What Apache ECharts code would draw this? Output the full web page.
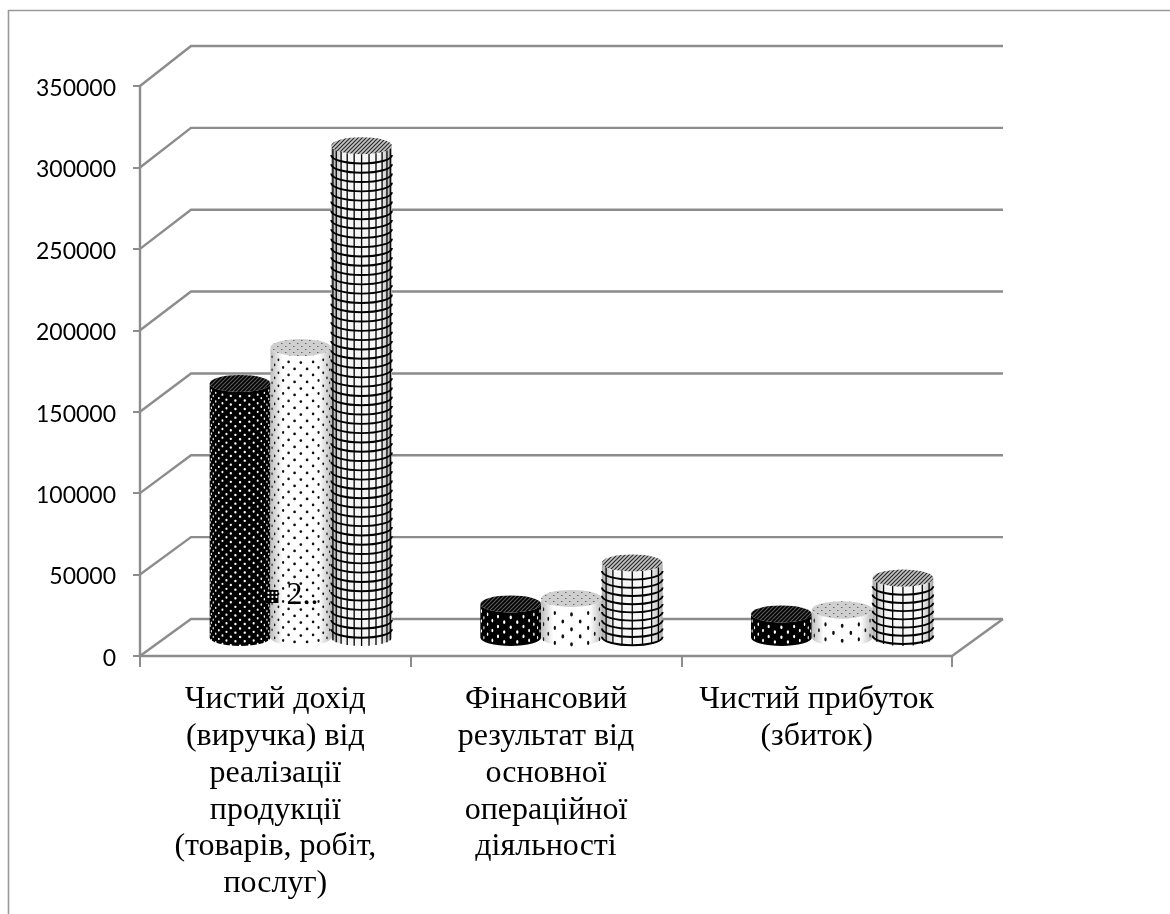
<!DOCTYPE html>
<html>
<head>
<meta charset="utf-8">
<style>html,body{margin:0;padding:0;background:#fff}#chart{width:1170px;height:914px}</style>
<script src="https://cdn.jsdelivr.net/npm/echarts@6/dist/echarts.min.js"></script>
</head>
<body>
<div id="chart"></div>
<script>
// Financial indicators: three periods per category
const categories = [
  'Чистий дохід\n(виручка) від\nреалізації\nпродукції\n(товарів, робіт,\nпослуг)',
  'Фінансовий\nрезультат від\nосновної\nопераційної\nдіяльності',
  'Чистий прибуток\n(збиток)'
];
const periodA = [156000, 20600, 14500];
const periodB = [178000, 24000, 17000];
const periodC = [302000, 45800, 36500];
const yTicks = [0, 50000, 100000, 150000, 200000, 250000, 300000, 350000];
const dataLabelText = '2..';
const dataLabelAnchor = [0, 25500];

const LINE = '#8c8c8c';
const DEPTH_X = 51;
const DEPTH_Y = 37;
const DEPTH_Y_TOP_EXTRA = 3;
const BAR_SHARE = 0.2245;
const CAP_RY = 8.5;

// Diagonal hatch used on the cylinder caps
function hatch(bg, ink) {
  const c = document.createElement('canvas');
  c.width = c.height = 4;
  const g = c.getContext('2d');
  g.fillStyle = bg; g.fillRect(0, 0, 4, 4);
  g.strokeStyle = ink; g.lineWidth = 1.2;
  g.beginPath();
  g.moveTo(-1, 1); g.lineTo(1, -1);
  g.moveTo(0, 4); g.lineTo(4, 0);
  g.moveTo(3, 5); g.lineTo(5, 3);
  g.stroke();
  return { image: c, repeat: 'repeat' };
}
// Sparse dots for the cap of the dotted cylinder
function speckle(bg, ink) {
  const c = document.createElement('canvas');
  c.width = 8; c.height = 6;
  const g = c.getContext('2d');
  g.fillStyle = bg; g.fillRect(0, 0, 8, 6);
  g.fillStyle = ink;
  g.fillRect(1, 1, 1.5, 1); g.fillRect(5, 4, 1.5, 1);
  return { image: c, repeat: 'repeat' };
}

function ovalAt(x, y, rx, ry) {
  return 'M' + (x - rx) + ' ' + y +
    'A' + rx + ' ' + ry + ' 0 1 0 ' + (x + rx) + ' ' + y +
    'A' + rx + ' ' + ry + ' 0 1 0 ' + (x - rx) + ' ' + y + 'Z';
}

// Dots wrapped around the visible half of a cylinder
function wrappedDots(cx, r, ry, top, base, colGap, rowGap, dotR, dotStretch) {
  let d = '';
  const step = colGap / r;
  const n = Math.floor((Math.PI / 2) / step);
  for (let i = -n; i <= n; i++) {
    const t = i * step, s = Math.cos(t);
    if (s < 0.12) continue;
    const x = cx + r * Math.sin(t);
    const shift = (i & 1) ? rowGap / 2 : 0;
    for (let y0 = top + shift + rowGap / 2; y0 < base; y0 += rowGap) {
      d += ovalAt(x, y0 + ry * s, Math.max(0.6, dotR * s), dotR * dotStretch);
    }
  }
  return d;
}

function wrappedRings(cx, r, ry, top, base, rowGap) {
  let d = '';
  for (let y0 = top + rowGap; y0 < base; y0 += rowGap) {
    d += 'M' + (cx - r) + ' ' + y0 + 'A' + r + ' ' + ry + ' 0 0 0 ' + (cx + r) + ' ' + y0;
  }
  return d;
}

function wrappedMeridians(cx, r, ry, top, base, colGap) {
  let d = '';
  const step = colGap / r;
  const n = Math.floor((Math.PI / 2) / step);
  for (let i = -n; i <= n; i++) {
    const t = i * step, s = Math.cos(t);
    if (s < 0.2) continue;
    const x = cx + r * Math.sin(t);
    d += 'M' + x + ' ' + (top + ry * s) + 'L' + x + ' ' + (base + ry * s);
  }
  return d;
}

function shade(edge, mid) {
  return {
    type: 'linear', x: 0, y: 0, x2: 1, y2: 0,
    colorStops: [
      { offset: 0, color: edge }, { offset: 0.2, color: mid },
      { offset: 0.8, color: mid }, { offset: 1, color: edge }
    ]
  };
}

const STYLES = [
  { body: '#000', cap: hatch('#000', '#5a5a5a'), kind: 'dots', ink: '#fff', colGap: 4.7, rowGap: 8.6, dotR: 1.2 },
  { body: shade('#bdbdbd', '#fff'), cap: speckle('#cfcfcf', '#666'), kind: 'dots', ink: '#111', colGap: 6.3, rowGap: 13, dotR: 1.4 },
  { body: shade('#aaaaaa', '#f6f6f6'), cap: hatch('#c4c4c4', '#2a2a2a'), kind: 'grid', ink: '#000', colGap: 7.5, rowGap: 9.3 }
];

function cylinderRenderer(seriesIndex) {
  return function (params, api) {
    const cat = api.value(0);
    const band = api.size([1, 0])[0];
    const w = band * BAR_SHARE;
    const r = w / 2;
    const front = api.coord([cat, api.value(1)]);
    const floor = api.coord([cat, 0]);
    const cx = front[0] + DEPTH_X / 2 + (seriesIndex - 1) * w;
    const top = front[1] - DEPTH_Y / 2;
    const base = floor[1] - DEPTH_Y / 2;
    const s = STYLES[seriesIndex];
    const ry = CAP_RY;
    const short = base - top < 120;
    const outline = 'M' + (cx - r) + ' ' + top + 'L' + (cx - r) + ' ' + base +
      'A' + r + ' ' + ry + ' 0 0 0 ' + (cx + r) + ' ' + base +
      'L' + (cx + r) + ' ' + top +
      'A' + r + ' ' + ry + ' 0 0 1 ' + (cx - r) + ' ' + top + 'Z';
    const children = [{ type: 'path', shape: { pathData: outline }, style: { fill: s.body } }];
    if (s.kind === 'dots') {
      children.push({
        type: 'path',
        shape: {
          pathData: wrappedDots(cx, r, ry, top, base,
            short ? s.colGap * 1.4 : s.colGap, short ? s.rowGap * 1.15 : s.rowGap, s.dotR, short ? 1.5 : 1)
        },
        style: { fill: s.ink }
      });
    } else {
      children.push({
        type: 'path',
        shape: { pathData: wrappedMeridians(cx, r, ry, top, base, short ? s.colGap * 1.4 : s.colGap) },
        style: { fill: 'none', stroke: '#000', lineWidth: 1.3 }
      });
      children.push({
        type: 'path',
        shape: { pathData: wrappedRings(cx, r, ry, top, base, short ? 8.2 : s.rowGap) },
        style: { fill: 'none', stroke: s.ink, lineWidth: 1.9 }
      });
    }
    children.push({
      type: 'path',
      shape: { pathData: ovalAt(cx, top, r, ry) },
      style: { fill: s.cap }
    });
    return { type: 'group', children };
  };
}

// Back wall lines and side-wall diagonals, one per value tick
function wallRenderer(params, api) {
  const v = api.value(0);
  const sys = params.coordSys;
  const y = api.coord([0, v])[1];
  const lift = DEPTH_Y + DEPTH_Y_TOP_EXTRA * v / yTicks[yTicks.length - 1];
  const x0 = sys.x, x1 = sys.x + sys.width;
  const children = [{
    type: 'polyline',
    shape: { points: [[x0, y], [x0 + DEPTH_X, y - lift], [x1 + DEPTH_X, y - lift]] },
    style: { fill: 'none', stroke: LINE, lineWidth: 2.4 }
  }];
  if (v === 0) {
    children.push({
      type: 'line',
      shape: { x1: x1, y1: y, x2: x1 + DEPTH_X, y2: y - lift },
      style: { stroke: LINE, lineWidth: 2.4 }
    });
  }
  return { type: 'group', children };
}

// Clipped data label with its small legend key
function keyLabelRenderer(params, api) {
  const p = api.coord([api.value(0), api.value(1)]);
  const band = api.size([1, 0])[0];
  const x = p[0] + DEPTH_X / 2 - band * BAR_SHARE / 2;
  const y = p[1] - DEPTH_Y / 2;
  const pips = [[-2, -3], [2, -3], [6, -3], [-2, 1], [2, 1], [6, 1], [2, 5]]
    .map(q => ovalAt(x + q[0], y + q[1], 1.1, 1.1)).join('');
  return {
    type: 'group',
    children: [
      { type: 'rect', shape: { x: x - 5, y: y - 6, width: 13, height: 13 }, style: { fill: '#000' } },
      { type: 'path', shape: { pathData: pips }, style: { fill: '#fff' } },
      {
        type: 'text',
        style: {
          x: x + 16, y: y, text: dataLabelText,
          font: '32px "Liberation Serif"', fill: '#000',
          verticalAlign: 'middle', align: 'left'
        }
      }
    ]
  };
}

const seriesData = [periodA, periodB, periodC];

const chart = echarts.init(document.getElementById('chart'), null, { renderer: 'canvas' });
chart.setOption({
  animation: false,
  backgroundColor: '#fff',
  graphic: {
    elements: [{
      type: 'polyline',
      shape: { points: [[8.5, 914], [8.5, 10.5], [1170, 10.5]] },
      style: { fill: 'none', stroke: '#9a9a9a', lineWidth: 1.6 },
      silent: true
    }]
  },
  grid: { left: 140, top: 86, width: 812, height: 570 },
  xAxis: {
    type: 'category',
    data: categories,
    axisLine: { lineStyle: { color: LINE, width: 2.4 } },
    axisTick: { show: true, length: 11, lineStyle: { color: LINE, width: 2 } },
    axisLabel: {
      interval: 0, margin: 25, color: '#000',
      fontFamily: '"Liberation Serif"', fontSize: 32, lineHeight: 36.9
    }
  },
  yAxis: {
    type: 'value',
    min: 0, max: 350000, interval: 50000,
    splitLine: { show: false },
    axisLine: { show: true, lineStyle: { color: LINE, width: 2.4 } },
    axisTick: { show: true, length: 7, lineStyle: { color: LINE, width: 2 } },
    axisLabel: {
      margin: 24, color: '#000', fontFamily: 'Lato', fontSize: 23,
      verticalAlign: 'top', lineHeight: 5,
      formatter: v => String(v)
    }
  },
  series: [
    {
      type: 'custom', name: 'walls', z: 1, silent: true,
      data: yTicks.map(v => [v]),
      encode: { y: 0 },
      renderItem: wallRenderer
    }
  ].concat(seriesData.map((values, i) => ({
    type: 'custom', name: 'period ' + (i + 1), z: 2 + i, silent: true,
    data: values.map((v, c) => [c, v]),
    encode: { x: 0, y: 1 },
    renderItem: cylinderRenderer(i)
  }))).concat([
    {
      type: 'custom', name: 'data label', z: 9, silent: true,
      data: [dataLabelAnchor],
      encode: { x: 0, y: 1 },
      renderItem: keyLabelRenderer
    }
  ])
});
</script>
</body>
</html>
